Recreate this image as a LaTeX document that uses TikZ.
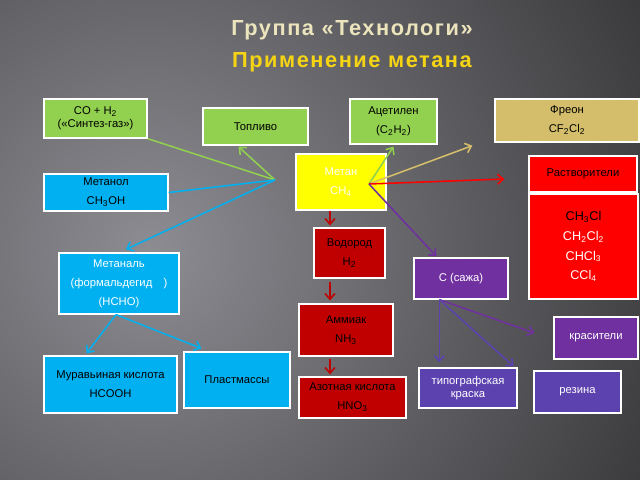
\documentclass[tikz,border=0pt]{standalone}
\usepackage{fontspec}
\setmainfont{Liberation Sans}
\newfontfamily\titlefont[LetterSpace=7]{Liberation Sans}
\usetikzlibrary{arrows.meta,calc}

\definecolor{bgLight}{RGB}{140,140,146}
\definecolor{bgDark}{RGB}{48,48,50}
\definecolor{cGreen}{RGB}{146,208,80}
\definecolor{cCyan}{RGB}{0,176,240}
\definecolor{cYellow}{RGB}{255,255,0}
\definecolor{cRed}{RGB}{255,0,0}
\definecolor{cDarkRed}{RGB}{192,0,0}
\definecolor{cPurple}{RGB}{112,48,160}
\definecolor{cViolet}{RGB}{92,66,174}
\definecolor{cTan}{RGB}{212,190,108}
\definecolor{cTitleA}{RGB}{236,228,188}
\definecolor{cTitleB}{RGB}{245,212,20}

\begin{document}
\begin{tikzpicture}[x=0.025cm,y=-0.025cm,
  >={Straight Barb[length=4pt,width=7pt]},
  box/.style={draw=white, line width=0.9pt, align=center, inner sep=1pt,
    font=\fontsize{8}{13.5}\selectfont},
  sz/.style 2 args={minimum width=#1*0.025cm, minimum height=#2*0.025cm},
  link/.style={line width=1.1pt},
  heading/.style={anchor=base, font=\titlefont\bfseries\fontsize{15.5}{18}\selectfont}]

  % Background
  \useasboundingbox (0,0) rectangle (640,480);
  \begin{scope}
    \clip (0,0) rectangle (640,480);
    \shade[inner color=bgLight, outer color=bgDark] (150,250) circle (620);
  \end{scope}

  % Title
  \node[heading, text=cTitleA] (title) at (352,35) {Группа «Технологи»};
  \node[heading, text=cTitleB] (subtitle) at (352,67) {Применение метана};

  % Methane
  \node[box, fill=cYellow, text=white, sz={90}{56}] (methane) at (341,182) {Метан\\CH\textsubscript{4}};

  % Left branch
  \node[box, fill=cGreen, sz={103}{39}, font=\fontsize{8}{9.5}\selectfont] (syngas) at (95.5,118.5) {CO + H\textsubscript{2}\\(«Синтез-газ»)};
  \node[box, fill=cGreen, sz={105}{37}] (fuel) at (255.5,126.5) {Топливо};
  \node[box, fill=cCyan, sz={124}{37}] (methanol) at (106,192.5) {Метанол\\CH\textsubscript{3}OH};
  \node[box, fill=cCyan, text=white, sz={120}{61}] (methanal) at (119,283.5) {Метаналь\\(формальдегид\quad)\\(HCHO)};
  \node[box, fill=cCyan, sz={133}{57}] (formic) at (110.5,384.5) {Муравьиная кислота\\HCOOH};
  \node[box, fill=cCyan, sz={106}{56}] (plastics) at (237,380) {Пластмассы};

  % Right branch
  \node[box, fill=cGreen, sz={87}{45}] (acetylene) at (393.5,121.5) {Ацетилен\\(C\textsubscript{2}H\textsubscript{2})};
  \node[box, fill=cTan, sz={144}{43}] (freon) at (567,120.5) {Фреон\\CF\textsubscript{2}Cl\textsubscript{2}};
  \node[box, fill=cRed, sz={108}{36}] (solvents) at (583,174) {Растворители};
  \node[box, fill=cRed, text=white, sz={109}{105}, font=\fontsize{9}{14}\selectfont] (chlor) at (583.5,246.5)
    {\textcolor{black}{CH\textsubscript{3}Cl}\\CH\textsubscript{2}Cl\textsubscript{2}\\CHCl\textsubscript{3}\\CCl\textsubscript{4}};

  % Middle branch
  \node[box, fill=cDarkRed, sz={71}{50}] (hydrogen) at (349.5,253) {Водород\\H\textsubscript{2}};
  \node[box, fill=cDarkRed, sz={94}{52}] (ammonia) at (346,330) {Аммиак\\NH\textsubscript{3}};
  \node[box, fill=cDarkRed, sz={107}{41}] (nitric) at (352.5,397.5) {Азотная кислота\\HNO\textsubscript{3}};

  % Soot branch
  \node[box, fill=cPurple, text=white, sz={94}{41}] (soot) at (461,278.5) {C (сажа)};
  \node[box, fill=cPurple, text=white, sz={84}{42}] (dyes) at (596,338) {красители};
  \node[box, fill=cViolet, text=white, sz={98}{40}, font=\fontsize{8}{9}\selectfont] (ink) at (468,388) {типографская\\краска};
  \node[box, fill=cViolet, text=white, sz={87}{42}] (rubber) at (577.5,392) {резина};

  % Hubs
  \coordinate (hubL) at (275,180);
  \coordinate (hubR) at (369,184);
  \coordinate (redx) at (330,0);
  \coordinate (sootB) at ($(soot.south west)+(26,0)$);
  \coordinate (methanalB) at ($(methanal.south)+(-3,0)$);

  % Links from the left hub
  \draw[link, cGreen] (hubL) -- (syngas.south east);
  \draw[link, cGreen, ->] (hubL) -- ($(fuel.south)+(-17,1)$);
  \draw[link, cCyan] (hubL) -- (methanol.east);
  \draw[link, cCyan, ->] (hubL) -- ($(methanal.north)+(7,-3)$);

  % Links from the right hub
  \draw[link, cGreen, ->] (hubR) -- ($(acetylene.south)+(0,2)$);
  \draw[link, cTan, ->] (hubR) -- ($(freon.south west)+(-22,3)$);
  \draw[link, cRed, ->] (hubR) -- ($(solvents.west)+(-24,5)$);
  \draw[link, cPurple, ->] (hubR) -- ($(soot.north west)+(23,-1)$);

  % Chain down
  \draw[link, cDarkRed, ->] (methane.south -| redx) -- ($(hydrogen.north -| redx)+(0,-2)$);
  \draw[link, cDarkRed, ->] ($(hydrogen.south -| redx)+(0,3)$) -- ($(ammonia.north -| redx)+(0,-3)$);
  \draw[link, cDarkRed, ->] ($(ammonia.south -| redx)+(0,2)$) -- ($(nitric.north -| redx)+(0,-2)$);

  % Methanal products
  \draw[link, cCyan, ->] (methanalB) -- ($(formic.north)+(-24,-2)$);
  \draw[link, cCyan, ->] (methanalB) -- ($(plastics.north west)+(18,-3)$);

  % Soot products
  \draw[link, cPurple, ->] (sootB) -- ($(dyes.west)+(-19,-5)$);
  \draw[link, cViolet, ->] (sootB) -- ($(ink.north west)+(21,-5)$);
  \draw[link, cViolet, ->] (sootB) -- ($(ink.north east)+(-4,-1)$);
\end{tikzpicture}
\end{document}
